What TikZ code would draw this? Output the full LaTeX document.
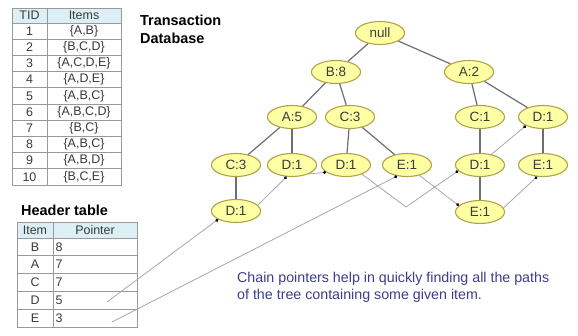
\documentclass[tikz,border=0pt]{standalone}
\usepackage{fontspec}
\setmainfont{Liberation Sans}
\usetikzlibrary{shapes.geometric,arrows.meta}

\definecolor{nodefill}{HTML}{FFFFA4}
\definecolor{nodeline}{HTML}{B0A24A}
\definecolor{textgray}{HTML}{3A3A3A}
\definecolor{edgegray}{HTML}{6E6E6E}
\definecolor{chaingray}{HTML}{A8A8A8}
\definecolor{gridgray}{HTML}{999999}
\definecolor{hdrfill}{HTML}{DCEFF5}
\definecolor{notecolor}{HTML}{3D3D8F}

\begin{document}
\begin{tikzpicture}[x=1bp,y=-1bp,
  fpnode/.style={ellipse, draw=nodeline, fill=nodefill, line width=1.1bp,
    minimum width=49bp, minimum height=23bp, inner sep=0pt,
    font=\fontsize{13.5}{14}\selectfont, text=textgray},
  treeedge/.style={draw=edgegray, line width=1.2bp},
  chainlink/.style={draw=chaingray, line width=0.8bp,
    -{Circle[length=3bp, color=black]}},
  gridline/.style={draw=gridgray, line width=0.8bp},
  cell/.style={inner sep=0pt, font=\fontsize{12.5}{13}\selectfont, text=textgray},
  title/.style={inner sep=0pt, anchor=base west, font=\fontsize{14.5}{15}\bfseries\selectfont, text=black},
  note/.style={inner sep=0pt, anchor=base west, font=\fontsize{14.3}{15}\selectfont, text=notecolor},
]
\useasboundingbox (0,0) rectangle (578,335);
\fill[white] (0,0) rectangle (578,335);

% ---------- transaction database ----------
\fill[hdrfill] (12,8) rectangle (121,23);
\foreach \k in {0,...,9} \draw[gridline] (12,{23+16.2*\k}) -- (121,{23+16.2*\k});
\draw[gridline] (47,8) -- (47,185);
\draw[gridline] (12,8) rectangle (121,185);
\node[cell] (tidh) at (29.5,15.5) {TID};
\node[cell] (itemsh) at (84,15.5) {Items};
\foreach \t/\s [count=\i] in {1/{\{A,B\}},2/{\{B,C,D\}},3/{\{A,C,D,E\}},4/{\{A,D,E\}},
  5/{\{A,B,C\}},6/{\{A,B,C,D\}},7/{\{B,C\}},8/{\{A,B,C\}},9/{\{A,B,D\}},10/{\{B,C,E\}}}{
  \node[cell] (tid\i) at (29.5,{23+16.2*\i-8.1}) {\t};
  \node[cell] (items\i) at (84,{23+16.2*\i-8.1}) {\s};
}
\node[title] (ttl1) at (140,25) {Transaction};
\node[title] (ttl2) at (140,43) {Database};

% ---------- header table ----------
\node[title] (htitle) at (21,215) {Header table};
\fill[hdrfill] (17,222) rectangle (137,238);
\foreach \k in {0,...,4} \draw[gridline] (17,{238+17.8*\k}) -- (137,{238+17.8*\k});
\draw[gridline] (53,222) -- (53,327);
\draw[gridline] (17,222) rectangle (137,327);
\node[cell] (itemh) at (35,230) {Item};
\node[cell] (ptrh) at (95,230) {Pointer};
\foreach \a/\n [count=\i] in {B/8,A/7,C/7,D/5,E/3}{
  \node[cell] (hitem\a) at (35,{238+17.8*\i-8.9}) {\a};
  \node[cell, anchor=west] (hptr\a) at (55.5,{238+17.8*\i-8.9}) {\n};
}
\coordinate (hdrD) at (107,302);
\coordinate (hdrE) at (112,322);

% ---------- FP-tree ----------
\node[fpnode] (root) at (380,33) {null};
\node[fpnode] (b8)   at (336,72) {B:8};
\node[fpnode] (a2)   at (469,72) {A:2};
\node[fpnode] (a5)   at (292,117) {A:5};
\node[fpnode] (c3)   at (350,117) {C:3};
\node[fpnode] (c1)   at (480,117) {C:1};
\node[fpnode] (dr)   at (543,117) {D:1};
\node[fpnode] (c3l)  at (236,165) {C:3};
\node[fpnode] (da)   at (292,165) {D:1};
\node[fpnode] (dc)   at (346,165) {D:1};
\node[fpnode] (ec)   at (407,165) {E:1};
\node[fpnode] (dm)   at (480,165) {D:1};
\node[fpnode] (er)   at (543,165) {E:1};
\node[fpnode] (dl)   at (236,211) {D:1};
\node[fpnode] (eb)   at (480,212) {E:1};

\draw[treeedge] (root) -- (b8);
\draw[treeedge] (root) -- (a2);
\draw[treeedge] (b8) -- (a5);
\draw[treeedge] (b8) -- (c3);
\draw[treeedge] (a5) -- (c3l);
\draw[treeedge] (a5) -- (da);
\draw[treeedge] (c3) -- (dc);
\draw[treeedge] (c3) -- (ec);
\draw[treeedge] (c3l) -- (dl);
\draw[treeedge] (a2) -- (c1);
\draw[treeedge] (a2) -- (dr);
\draw[treeedge] (c1) -- (dm);
\draw[treeedge] (dm) -- (eb);
\draw[treeedge] (dr) -- (er);

% ---------- node-link chains ----------
\coordinate (bend) at (406,207);
\draw[chainlink] (hdrD) -- (dl.205);
\draw[chainlink] (dl.15) -- (da.245);
\draw[chainlink] (da.-28) -- (dc.200);
\draw[chainlink] (dc.-30) -- (bend) -- (dm.195);
\draw[chainlink] (dm.43) -- (dr.207);
\draw[chainlink] (hdrE) -- (ec.228);
\draw[chainlink] (ec.-40) -- (eb.163);
\draw[chainlink] (eb.10) -- (er.243);

% ---------- note ----------
\node[note] (note1) at (237,282) {Chain pointers help in quickly finding all the paths};
\node[note] (note2) at (237,299) {of the tree containing some given item.};
\end{tikzpicture}
\end{document}
